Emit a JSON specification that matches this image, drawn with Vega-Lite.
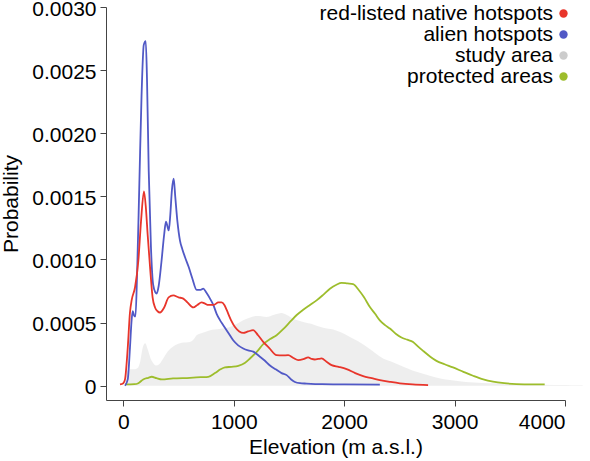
{
  "$schema": "https://vega.github.io/schema/vega-lite/v6.json",
  "width": 459,
  "height": 393,
  "autosize": {"type": "none"},
  "padding": {"left": 106, "top": 7, "right": 25, "bottom": 61},
  "background": "white",
  "config": {
    "view": {"stroke": null},
    "font": "Liberation Sans",
    "axis": {"grid": false, "domainColor": "#444444", "tickColor": "#444444", "labelColor": "black", "titleColor": "black", "labelFontSize": 21, "titleFontSize": 21, "titleFontWeight": "normal", "tickSize": 6, "domainWidth": 1, "tickWidth": 1}
  },
  "datasets": {
    "curves": [
      {"series": "study area", "x": 15, "y": 0},
      {"series": "study area", "x": 25, "y": 0.00011},
      {"series": "study area", "x": 60, "y": 0.00013},
      {"series": "study area", "x": 100, "y": 0.00013},
      {"series": "study area", "x": 130, "y": 0.00014},
      {"series": "study area", "x": 155, "y": 0.0002},
      {"series": "study area", "x": 175, "y": 0.0003},
      {"series": "study area", "x": 198, "y": 0.000336},
      {"series": "study area", "x": 220, "y": 0.00029},
      {"series": "study area", "x": 245, "y": 0.00022},
      {"series": "study area", "x": 270, "y": 0.00018},
      {"series": "study area", "x": 295, "y": 0.00016},
      {"series": "study area", "x": 325, "y": 0.00017},
      {"series": "study area", "x": 350, "y": 0.0002},
      {"series": "study area", "x": 385, "y": 0.00025},
      {"series": "study area", "x": 423, "y": 0.00029},
      {"series": "study area", "x": 468, "y": 0.00032},
      {"series": "study area", "x": 530, "y": 0.00034},
      {"series": "study area", "x": 604, "y": 0.000347},
      {"series": "study area", "x": 640, "y": 0.00037},
      {"series": "study area", "x": 664, "y": 0.0004},
      {"series": "study area", "x": 720, "y": 0.00042},
      {"series": "study area", "x": 785, "y": 0.00044},
      {"series": "study area", "x": 870, "y": 0.00045},
      {"series": "study area", "x": 966, "y": 0.000465},
      {"series": "study area", "x": 1030, "y": 0.00049},
      {"series": "study area", "x": 1086, "y": 0.000518},
      {"series": "study area", "x": 1150, "y": 0.00054},
      {"series": "study area", "x": 1207, "y": 0.000552},
      {"series": "study area", "x": 1250, "y": 0.00055},
      {"series": "study area", "x": 1298, "y": 0.000544},
      {"series": "study area", "x": 1360, "y": 0.00056},
      {"series": "study area", "x": 1400, "y": 0.00057},
      {"series": "study area", "x": 1433, "y": 0.000576},
      {"series": "study area", "x": 1480, "y": 0.00056},
      {"series": "study area", "x": 1538, "y": 0.000531},
      {"series": "study area", "x": 1599, "y": 0.000513},
      {"series": "study area", "x": 1629, "y": 0.000505},
      {"series": "study area", "x": 1700, "y": 0.00049},
      {"series": "study area", "x": 1750, "y": 0.000475},
      {"series": "study area", "x": 1810, "y": 0.00046},
      {"series": "study area", "x": 1900, "y": 0.000445},
      {"series": "study area", "x": 1980, "y": 0.00042},
      {"series": "study area", "x": 2052, "y": 0.000386},
      {"series": "study area", "x": 2130, "y": 0.00035},
      {"series": "study area", "x": 2203, "y": 0.000308},
      {"series": "study area", "x": 2280, "y": 0.00026},
      {"series": "study area", "x": 2353, "y": 0.000216},
      {"series": "study area", "x": 2430, "y": 0.00019},
      {"series": "study area", "x": 2504, "y": 0.000163},
      {"series": "study area", "x": 2580, "y": 0.000135},
      {"series": "study area", "x": 2655, "y": 0.00011},
      {"series": "study area", "x": 2730, "y": 0.00009},
      {"series": "study area", "x": 2806, "y": 0.000071},
      {"series": "study area", "x": 2880, "y": 0.000055},
      {"series": "study area", "x": 2957, "y": 0.000045},
      {"series": "study area", "x": 3100, "y": 0.00003},
      {"series": "study area", "x": 3250, "y": 0.000022},
      {"series": "study area", "x": 3409, "y": 0.000019},
      {"series": "study area", "x": 3600, "y": 0.000012},
      {"series": "study area", "x": 3800, "y": 0.000008},
      {"series": "study area", "x": 4000, "y": 0.000005},
      {"series": "study area", "x": 4160, "y": 0.000003},

      {"series": "protected areas", "x": 15, "y": 0.00001},
      {"series": "protected areas", "x": 100, "y": 0.000012},
      {"series": "protected areas", "x": 136, "y": 0.00002},
      {"series": "protected areas", "x": 180, "y": 0.00005},
      {"series": "protected areas", "x": 226, "y": 0.000063},
      {"series": "protected areas", "x": 257, "y": 0.000071},
      {"series": "protected areas", "x": 300, "y": 0.00006},
      {"series": "protected areas", "x": 348, "y": 0.00005},
      {"series": "protected areas", "x": 450, "y": 0.000058},
      {"series": "protected areas", "x": 604, "y": 0.000063},
      {"series": "protected areas", "x": 700, "y": 0.000068},
      {"series": "protected areas", "x": 769, "y": 0.000071},
      {"series": "protected areas", "x": 830, "y": 0.0001},
      {"series": "protected areas", "x": 880, "y": 0.00013},
      {"series": "protected areas", "x": 920, "y": 0.000145},
      {"series": "protected areas", "x": 980, "y": 0.00015},
      {"series": "protected areas", "x": 1041, "y": 0.000158},
      {"series": "protected areas", "x": 1100, "y": 0.00018},
      {"series": "protected areas", "x": 1147, "y": 0.000216},
      {"series": "protected areas", "x": 1210, "y": 0.00027},
      {"series": "protected areas", "x": 1267, "y": 0.000329},
      {"series": "protected areas", "x": 1330, "y": 0.00037},
      {"series": "protected areas", "x": 1388, "y": 0.0004},
      {"series": "protected areas", "x": 1450, "y": 0.00045},
      {"series": "protected areas", "x": 1509, "y": 0.000505},
      {"series": "protected areas", "x": 1570, "y": 0.00056},
      {"series": "protected areas", "x": 1629, "y": 0.000602},
      {"series": "protected areas", "x": 1690, "y": 0.00064},
      {"series": "protected areas", "x": 1750, "y": 0.000676},
      {"series": "protected areas", "x": 1810, "y": 0.00072},
      {"series": "protected areas", "x": 1871, "y": 0.000768},
      {"series": "protected areas", "x": 1930, "y": 0.0008},
      {"series": "protected areas", "x": 1976, "y": 0.000815},
      {"series": "protected areas", "x": 2030, "y": 0.00081},
      {"series": "protected areas", "x": 2081, "y": 0.000805},
      {"series": "protected areas", "x": 2130, "y": 0.00076},
      {"series": "protected areas", "x": 2180, "y": 0.0007},
      {"series": "protected areas", "x": 2233, "y": 0.000623},
      {"series": "protected areas", "x": 2280, "y": 0.00057},
      {"series": "protected areas", "x": 2323, "y": 0.000518},
      {"series": "protected areas", "x": 2370, "y": 0.00048},
      {"series": "protected areas", "x": 2414, "y": 0.000453},
      {"series": "protected areas", "x": 2470, "y": 0.00041},
      {"series": "protected areas", "x": 2519, "y": 0.000382},
      {"series": "protected areas", "x": 2570, "y": 0.000365},
      {"series": "protected areas", "x": 2624, "y": 0.000347},
      {"series": "protected areas", "x": 2670, "y": 0.00031},
      {"series": "protected areas", "x": 2715, "y": 0.000276},
      {"series": "protected areas", "x": 2780, "y": 0.00023},
      {"series": "protected areas", "x": 2836, "y": 0.000197},
      {"series": "protected areas", "x": 2910, "y": 0.00017},
      {"series": "protected areas", "x": 2986, "y": 0.000145},
      {"series": "protected areas", "x": 3080, "y": 0.00011},
      {"series": "protected areas", "x": 3167, "y": 0.000079},
      {"series": "protected areas", "x": 3260, "y": 0.00005},
      {"series": "protected areas", "x": 3348, "y": 0.000032},
      {"series": "protected areas", "x": 3450, "y": 0.00002},
      {"series": "protected areas", "x": 3560, "y": 0.000013},
      {"series": "protected areas", "x": 3700, "y": 0.00001},
      {"series": "protected areas", "x": 3816, "y": 0.00001},

      {"series": "alien hotspots", "x": 15, "y": 0},
      {"series": "alien hotspots", "x": 40, "y": 0.00005},
      {"series": "alien hotspots", "x": 60, "y": 0.0003},
      {"series": "alien hotspots", "x": 75, "y": 0.00052},
      {"series": "alien hotspots", "x": 85, "y": 0.00059},
      {"series": "alien hotspots", "x": 100, "y": 0.00055},
      {"series": "alien hotspots", "x": 110, "y": 0.00055},
      {"series": "alien hotspots", "x": 125, "y": 0.0009},
      {"series": "alien hotspots", "x": 145, "y": 0.0016},
      {"series": "alien hotspots", "x": 165, "y": 0.0023},
      {"series": "alien hotspots", "x": 185, "y": 0.0027},
      {"series": "alien hotspots", "x": 203, "y": 0.00273},
      {"series": "alien hotspots", "x": 215, "y": 0.0024},
      {"series": "alien hotspots", "x": 230, "y": 0.0017},
      {"series": "alien hotspots", "x": 250, "y": 0.0011},
      {"series": "alien hotspots", "x": 270, "y": 0.0008},
      {"series": "alien hotspots", "x": 290, "y": 0.00074},
      {"series": "alien hotspots", "x": 302, "y": 0.00073},
      {"series": "alien hotspots", "x": 320, "y": 0.00079},
      {"series": "alien hotspots", "x": 345, "y": 0.00098},
      {"series": "alien hotspots", "x": 370, "y": 0.0012},
      {"series": "alien hotspots", "x": 386, "y": 0.0013},
      {"series": "alien hotspots", "x": 400, "y": 0.00126},
      {"series": "alien hotspots", "x": 411, "y": 0.00123},
      {"series": "alien hotspots", "x": 425, "y": 0.00135},
      {"series": "alien hotspots", "x": 440, "y": 0.00155},
      {"series": "alien hotspots", "x": 456, "y": 0.00164},
      {"series": "alien hotspots", "x": 470, "y": 0.0015},
      {"series": "alien hotspots", "x": 490, "y": 0.0013},
      {"series": "alien hotspots", "x": 513, "y": 0.00115},
      {"series": "alien hotspots", "x": 535, "y": 0.00108},
      {"series": "alien hotspots", "x": 558, "y": 0.00102},
      {"series": "alien hotspots", "x": 592, "y": 0.00094},
      {"series": "alien hotspots", "x": 625, "y": 0.00085},
      {"series": "alien hotspots", "x": 664, "y": 0.00076},
      {"series": "alien hotspots", "x": 700, "y": 0.00076},
      {"series": "alien hotspots", "x": 724, "y": 0.00077},
      {"series": "alien hotspots", "x": 750, "y": 0.00074},
      {"series": "alien hotspots", "x": 785, "y": 0.00069},
      {"series": "alien hotspots", "x": 815, "y": 0.00064},
      {"series": "alien hotspots", "x": 845, "y": 0.00057},
      {"series": "alien hotspots", "x": 875, "y": 0.00052},
      {"series": "alien hotspots", "x": 905, "y": 0.00048},
      {"series": "alien hotspots", "x": 950, "y": 0.00042},
      {"series": "alien hotspots", "x": 995, "y": 0.00036},
      {"series": "alien hotspots", "x": 1040, "y": 0.00032},
      {"series": "alien hotspots", "x": 1086, "y": 0.000295},
      {"series": "alien hotspots", "x": 1130, "y": 0.00028},
      {"series": "alien hotspots", "x": 1176, "y": 0.00027},
      {"series": "alien hotspots", "x": 1237, "y": 0.00023},
      {"series": "alien hotspots", "x": 1280, "y": 0.0002},
      {"series": "alien hotspots", "x": 1328, "y": 0.00016},
      {"series": "alien hotspots", "x": 1380, "y": 0.00013},
      {"series": "alien hotspots", "x": 1433, "y": 0.0001},
      {"series": "alien hotspots", "x": 1479, "y": 0.000084},
      {"series": "alien hotspots", "x": 1520, "y": 0.00005},
      {"series": "alien hotspots", "x": 1554, "y": 0.00003},
      {"series": "alien hotspots", "x": 1600, "y": 0.00002},
      {"series": "alien hotspots", "x": 1660, "y": 0.000017},
      {"series": "alien hotspots", "x": 1800, "y": 0.000012},
      {"series": "alien hotspots", "x": 2000, "y": 0.00001},
      {"series": "alien hotspots", "x": 2323, "y": 0.000008},

      {"series": "red-listed native hotspots", "x": -30, "y": 0.00001},
      {"series": "red-listed native hotspots", "x": 0, "y": 0.00002},
      {"series": "red-listed native hotspots", "x": 15, "y": 0.00005},
      {"series": "red-listed native hotspots", "x": 40, "y": 0.0003},
      {"series": "red-listed native hotspots", "x": 60, "y": 0.00058},
      {"series": "red-listed native hotspots", "x": 76, "y": 0.00068},
      {"series": "red-listed native hotspots", "x": 106, "y": 0.00078},
      {"series": "red-listed native hotspots", "x": 136, "y": 0.00099},
      {"series": "red-listed native hotspots", "x": 160, "y": 0.0013},
      {"series": "red-listed native hotspots", "x": 187, "y": 0.00154},
      {"series": "red-listed native hotspots", "x": 205, "y": 0.0014},
      {"series": "red-listed native hotspots", "x": 220, "y": 0.0012},
      {"series": "red-listed native hotspots", "x": 242, "y": 0.00094},
      {"series": "red-listed native hotspots", "x": 265, "y": 0.0007},
      {"series": "red-listed native hotspots", "x": 287, "y": 0.00062},
      {"series": "red-listed native hotspots", "x": 310, "y": 0.00059},
      {"series": "red-listed native hotspots", "x": 332, "y": 0.00058},
      {"series": "red-listed native hotspots", "x": 370, "y": 0.00062},
      {"series": "red-listed native hotspots", "x": 410, "y": 0.0007},
      {"series": "red-listed native hotspots", "x": 452, "y": 0.000715},
      {"series": "red-listed native hotspots", "x": 500, "y": 0.0007},
      {"series": "red-listed native hotspots", "x": 543, "y": 0.00069},
      {"series": "red-listed native hotspots", "x": 580, "y": 0.00066},
      {"series": "red-listed native hotspots", "x": 634, "y": 0.00062},
      {"series": "red-listed native hotspots", "x": 670, "y": 0.00064},
      {"series": "red-listed native hotspots", "x": 709, "y": 0.00066},
      {"series": "red-listed native hotspots", "x": 740, "y": 0.00065},
      {"series": "red-listed native hotspots", "x": 769, "y": 0.00064},
      {"series": "red-listed native hotspots", "x": 820, "y": 0.00064},
      {"series": "red-listed native hotspots", "x": 860, "y": 0.00066},
      {"series": "red-listed native hotspots", "x": 890, "y": 0.00066},
      {"series": "red-listed native hotspots", "x": 915, "y": 0.00064},
      {"series": "red-listed native hotspots", "x": 936, "y": 0.0006},
      {"series": "red-listed native hotspots", "x": 975, "y": 0.00052},
      {"series": "red-listed native hotspots", "x": 1011, "y": 0.000465},
      {"series": "red-listed native hotspots", "x": 1050, "y": 0.00043},
      {"series": "red-listed native hotspots", "x": 1086, "y": 0.000418},
      {"series": "red-listed native hotspots", "x": 1130, "y": 0.00043},
      {"series": "red-listed native hotspots", "x": 1176, "y": 0.00044},
      {"series": "red-listed native hotspots", "x": 1220, "y": 0.0004},
      {"series": "red-listed native hotspots", "x": 1267, "y": 0.000347},
      {"series": "red-listed native hotspots", "x": 1320, "y": 0.0003},
      {"series": "red-listed native hotspots", "x": 1388, "y": 0.000242},
      {"series": "red-listed native hotspots", "x": 1440, "y": 0.00024},
      {"series": "red-listed native hotspots", "x": 1493, "y": 0.000242},
      {"series": "red-listed native hotspots", "x": 1540, "y": 0.00022},
      {"series": "red-listed native hotspots", "x": 1584, "y": 0.000203},
      {"series": "red-listed native hotspots", "x": 1630, "y": 0.00021},
      {"series": "red-listed native hotspots", "x": 1674, "y": 0.000224},
      {"series": "red-listed native hotspots", "x": 1705, "y": 0.000212},
      {"series": "red-listed native hotspots", "x": 1735, "y": 0.000208},
      {"series": "red-listed native hotspots", "x": 1765, "y": 0.000212},
      {"series": "red-listed native hotspots", "x": 1795, "y": 0.000216},
      {"series": "red-listed native hotspots", "x": 1840, "y": 0.00019},
      {"series": "red-listed native hotspots", "x": 1886, "y": 0.000163},
      {"series": "red-listed native hotspots", "x": 1950, "y": 0.00015},
      {"series": "red-listed native hotspots", "x": 2022, "y": 0.000132},
      {"series": "red-listed native hotspots", "x": 2100, "y": 0.0001},
      {"series": "red-listed native hotspots", "x": 2172, "y": 0.000076},
      {"series": "red-listed native hotspots", "x": 2250, "y": 0.00006},
      {"series": "red-listed native hotspots", "x": 2323, "y": 0.000045},
      {"series": "red-listed native hotspots", "x": 2420, "y": 0.00003},
      {"series": "red-listed native hotspots", "x": 2504, "y": 0.000019},
      {"series": "red-listed native hotspots", "x": 2620, "y": 0.00001},
      {"series": "red-listed native hotspots", "x": 2760, "y": 0.000005}
    ]
  },
  "data": {"name": "curves"},
  "encoding": {
    "x": {"field": "x", "type": "quantitative", "scale": {"domain": [-157, 4000], "nice": false, "zero": false},
      "axis": {"values": [0, 1000, 2000, 3000, 4000], "title": "Elevation (m a.s.l.)", "labelPadding": 5, "titlePadding": 4, "format": "d"}},
    "y": {"field": "y", "type": "quantitative", "scale": {"domain": [-0.000113, 0.003], "nice": false, "zero": false},
      "axis": {"values": [0, 0.0005, 0.001, 0.0015, 0.002, 0.0025, 0.003], "title": "Probability", "labelPadding": 4, "labelOffset": 2, "titlePadding": 10, "labelExpr": "datum.value == 0 ? '0' : format(datum.value, '.4f')"}}
  },
  "layer": [
    {
      "transform": [{"filter": "datum.series == 'study area'"}],
      "mark": {"type": "area", "interpolate": "monotone", "opacity": 0.33, "clip": false},
      "encoding": {
        "color": {"field": "series", "type": "nominal",
          "scale": {"domain": ["red-listed native hotspots", "alien hotspots", "study area", "protected areas"], "range": ["#e8352b", "#5159c6", "#cccccc", "#9dbd2c"]},
          "legend": {"orient": "none", "legendX": 447, "legendY": -4, "title": null, "padding": 0, "symbolType": "circle", "symbolSize": 70, "symbolOpacity": 1, "labelFontSize": 21, "labelColor": "black", "labelAlign": "right", "labelOffset": -21, "rowPadding": -2, "labelLimit": 400,
            "encode": {"symbols": {"update": {"fill": {"scale": "color", "field": "value"}, "opacity": {"value": 1}, "fillOpacity": {"value": 1}, "strokeWidth": {"value": 0}}}}}
        }
      }
    },
    {
      "transform": [{"filter": "datum.series != 'study area'"}],
      "mark": {"type": "line", "interpolate": "monotone", "strokeWidth": 1.8},
      "encoding": {
        "color": {"field": "series", "type": "nominal"}
      }
    }
  ]
}
